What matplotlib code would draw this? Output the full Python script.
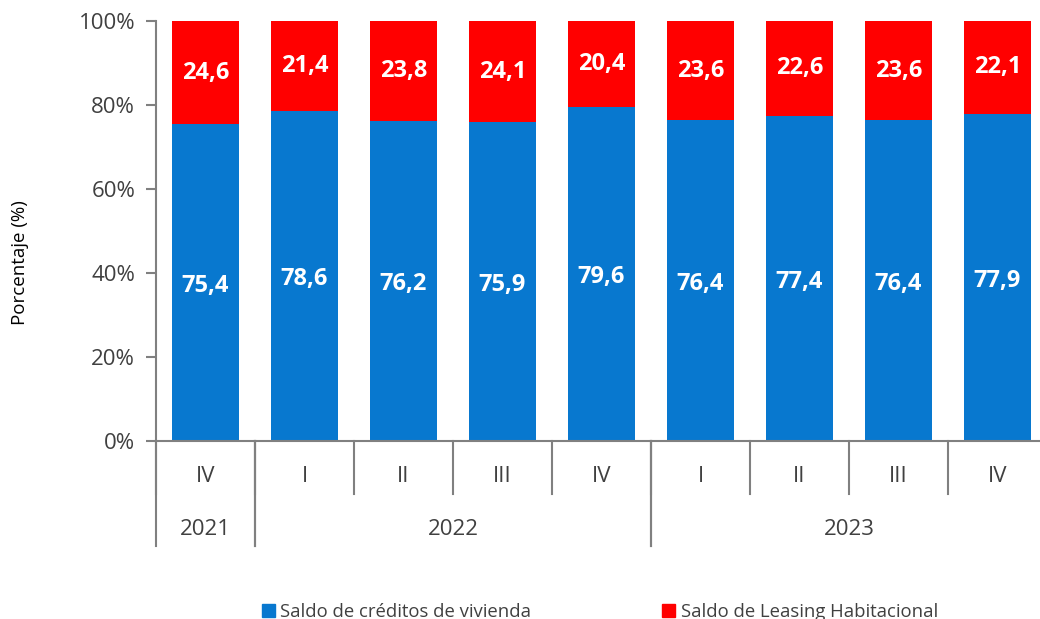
import matplotlib.pyplot as plt
from matplotlib.lines import Line2D
from matplotlib.patches import Patch

plt.rcParams['font.family'] = ['Open Sans', 'DejaVu Sans']

quarters = ['IV', 'I', 'II', 'III', 'IV', 'I', 'II', 'III', 'IV']
years = ['2021', '2022', '2023']
year_counts = [1, 4, 4]
creditos = [75.4, 78.6, 76.2, 75.9, 79.6, 76.4, 77.4, 76.4, 77.9]
leasing = [24.6, 21.4, 23.8, 24.1, 20.4, 23.6, 22.6, 23.6, 22.1]

blue = '#0878CF'
red = '#FF0000'
grey = '#808080'
txt = '#404040'

fig = plt.figure(figsize=(10.4, 6.19), dpi=100)
ax = fig.add_axes([156 / 1040, 1 - 441 / 619, 891 / 1040, 420 / 619])

x = list(range(len(quarters)))
ax.bar(x, creditos, width=0.68, color=blue, zorder=2)
ax.bar(x, leasing, width=0.68, bottom=creditos, color=red, zorder=2)

for i in x:
    ax.text(i, creditos[i] / 2 - 0.8, f'{creditos[i]:.1f}'.replace('.', ','),
            ha='center', va='center', color='white', fontsize=17, fontweight='bold')
    ax.text(i, creditos[i] + leasing[i] / 2, f'{leasing[i]:.1f}'.replace('.', ','),
            ha='center', va='center', color='white', fontsize=17, fontweight='bold')

ax.set_xlim(-0.5, len(quarters) - 0.5)
ax.set_ylim(0, 100)
ax.set_yticks(range(0, 101, 20))
ax.set_yticklabels([f'{v}%' for v in range(0, 101, 20)], fontsize=16, color=txt)
ax.tick_params(axis='y', length=7, color=grey, width=1.5, pad=8)
ax.set_xticks([])
for s in ['top', 'right']:
    ax.spines[s].set_visible(False)
for s in ['left', 'bottom']:
    ax.spines[s].set_color(grey)
    ax.spines[s].set_linewidth(1.5)
ax.set_ylabel('Porcentaje (%)', fontsize=13.5, color='black')
ax.yaxis.set_label_coords(-0.143, 0.425)

trans = ax.get_xaxis_transform()
# quarter labels and separators
for i, q in enumerate(quarters):
    ax.text(i, -0.085, q, transform=trans, ha='center', va='center', fontsize=16, color=txt)
for i in range(len(quarters) + 1):
    ax.add_line(Line2D([i - 0.5, i - 0.5], [0, -0.125], transform=trans,
                       color=grey, lw=1.5, clip_on=False))
# year labels and separators
start = 0
for y, n in zip(years, year_counts):
    ax.text(start + n / 2 - 0.5, -0.21, y, transform=trans, ha='center', va='center',
            fontsize=16, color=txt)
    for edge in (start, start + n):
        ax.add_line(Line2D([edge - 0.5, edge - 0.5], [0, -0.25], transform=trans,
                           color=grey, lw=1.5, clip_on=False))
    start += n

handles = [Patch(color=blue, label='Saldo de créditos de vivienda'),
           Patch(color=red, label='Saldo de Leasing Habitacional')]
fig.legend(handles=handles, loc='center', bbox_to_anchor=(600 / 1040, 1 - 612 / 619), ncol=2,
           frameon=False, fontsize=13.3, handlelength=0.7, handleheight=0.7,
           handletextpad=0.3, columnspacing=7.1, labelcolor=txt)

fig.savefig('out.png', dpi=100)
